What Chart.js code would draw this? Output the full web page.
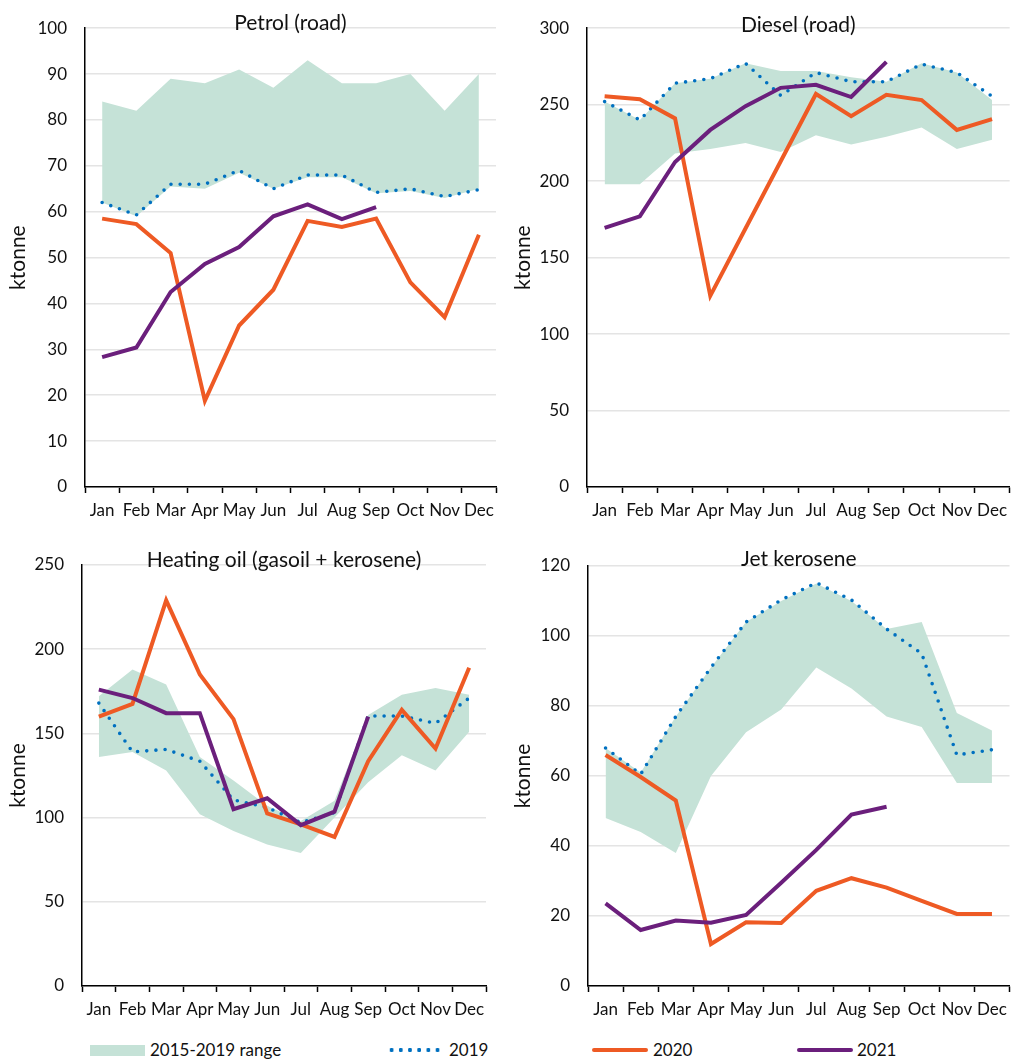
<!DOCTYPE html>
<html lang="en">
<head>
  <meta charset="UTF-8">
  <title>Oil product sales</title>
  <script src="https://cdn.jsdelivr.net/npm/chart.js"></script>
  <style>
    body {
      margin: 0;
      background: #fff;
      font-family: Lato, "Open Sans", sans-serif;
    }
    .page {
      position: relative;
      width: 1014px;
      height: 1059px;
    }
    .panel {
      position: absolute;
    }
    .legend {
      position: absolute;
      top: 1038px;
      left: 0;
      width: 1014px;
      height: 22px;
      font-size: 17px;
      color: #111;
    }
    .legend span {
      position: absolute;
      top: 1px;
      white-space: nowrap;
    }
    .swatch {
      position: absolute;
    }
  </style>
</head>
<body>
  <div class="page">
    <div class="panel" style="left:0;top:0;width:505px;height:530px"><canvas id="petrol"></canvas></div>
    <div class="panel" style="left:505px;top:0;width:509px;height:530px"><canvas id="diesel"></canvas></div>
    <div class="panel" style="left:0;top:535px;width:505px;height:485px"><canvas id="heating"></canvas></div>
    <div class="panel" style="left:505px;top:535px;width:509px;height:485px"><canvas id="jet"></canvas></div>

    <div class="legend">
      <div class="swatch" style="left:90px;top:7px;width:55px;height:11px;background:#c5e2d7"></div>
      <span style="left:150px">2015-2019 range</span>
      <div class="swatch" style="left:387px;top:9px;width:56px;height:6px;background:radial-gradient(circle, #0070c0 1.9px, transparent 2.3px) repeat-x;background-size:9.2px 6px"></div>
      <span style="left:449px">2019</span>
      <div class="swatch" style="left:592px;top:10px;width:56px;height:4px;background:#ee5a24;border-radius:2px"></div>
      <span style="left:653px">2020</span>
      <div class="swatch" style="left:797px;top:10px;width:56px;height:4px;background:#6b1f7c;border-radius:2px"></div>
      <span style="left:857px">2021</span>
    </div>
  </div>

  <script>
    const months = ['Jan', 'Feb', 'Mar', 'Apr', 'May', 'Jun', 'Jul', 'Aug', 'Sep', 'Oct', 'Nov', 'Dec'];

    // Petrol (road)
    const petrolLow  = [62, 59, 65.5, 65, 68.5, 65, 67.5, 67.5, 64, 64.5, 63, 65];
    const petrolHigh = [84, 82, 89, 88, 91, 87, 93, 88, 88, 90, 82, 90];
    const petrol2019 = [62, 59.3, 66, 66, 69, 65, 68, 68, 64.2, 65, 63.3, 64.8];
    const petrol2020 = [58.5, 57.3, 51, 18.8, 35.2, 43, 58, 56.7, 58.5, 44.6, 37, 55];
    const petrol2021 = [28.3, 30.4, 42.5, 48.6, 52.3, 59, 61.6, 58.4, 61, null, null, null];

    // Diesel (road)
    const dieselLow  = [198, 198, 218, 221, 225, 219, 230, 224, 229, 235, 221, 227];
    const dieselHigh = [252, 240, 264, 267, 277, 272, 272, 268, 265, 277, 271, 253];
    const diesel2019 = [252, 240, 264, 267, 277, 256, 271, 265, 265, 276.5, 271, 255.5];
    const diesel2020 = [255.5, 253.5, 241, 125, 169, 213, 257, 242.5, 256.5, 253, 233.5, 240.5];
    const diesel2021 = [169.5, 177, 212.5, 233.5, 249, 261, 263, 255, 278, null, null, null];

    // Heating oil (gasoil + kerosene)
    const heatingLow  = [136, 139, 128, 102, 92, 84, 79, 100, 121, 137, 128, 151];
    const heatingHigh = [172, 188, 179, 136, 122, 107, 98, 110, 161, 173, 177, 173];
    const heating2019 = [168, 139, 140.5, 133.5, 110.5, 106, 97, 103, 160.3, 160.3, 156, 171];
    const heating2020 = [160, 167.5, 229, 185, 158.5, 102.5, 96, 88.5, 133.5, 164, 141, 189];
    const heating2021 = [176, 171, 162, 162, 105, 111.5, 95.5, 103.5, 160, null, null, null];

    // Jet kerosene
    const jetLow  = [48, 44, 38, 60, 72.5, 79, 91, 85, 77, 74, 58, 58];
    const jetHigh = [68, 61, 77, 91, 104, 110, 115, 110, 102, 104, 78, 73];
    const jet2019 = [68, 60.5, 77, 91, 104, 110.3, 115.2, 110.3, 102, 95, 66, 67.5];
    const jet2020 = [66, 59.7, 53, 12, 18.2, 18, 27.2, 30.8, 28.1, 24.3, 20.6, 20.6];
    const jet2021 = [23.6, 16, 18.7, 18.1, 20.3, 29.5, 38.9, 49, 51.2, null, null, null];

    const FONT = 'Lato, "Open Sans", sans-serif';

    // draws the panel title over the top gridline
    const panelTitle = {
      id: 'panelTitle',
      afterDraw(chart, args, opts) {
        const { ctx, chartArea } = chart;
        ctx.save();
        ctx.font = '21px ' + FONT;
        ctx.fillStyle = '#111';
        ctx.textAlign = 'center';
        ctx.textBaseline = 'middle';
        ctx.fillText(opts.text, (chartArea.left + chartArea.right) / 2, chartArea.top + opts.dy);
        ctx.restore();
      }
    };

    function makeChart(id, title, titleDy, low, high, y19, y20, y21, yMax, step, axisW, pad) {
      new Chart(document.getElementById(id), {
        type: 'line',
        data: {
          labels: months,
          datasets: [
            { label: '2021', data: y21, borderColor: '#6b1f7c', borderWidth: 4, pointRadius: 0, order: 0 },
            { label: '2020', data: y20, borderColor: '#ee5a24', borderWidth: 4, pointRadius: 0, order: 1 },
            { label: '2019', data: y19, borderColor: '#0070c0', borderWidth: 3.6, borderDash: [0, 9.2],
              borderCapStyle: 'round', pointRadius: 0, order: 2 },
            { label: 'low', data: low, borderWidth: 0, borderColor: 'rgba(0,0,0,0)', pointRadius: 0, order: 3 },
            { label: '2015-2019 range', data: high, borderWidth: 0, borderColor: 'rgba(0,0,0,0)',
              backgroundColor: '#c5e2d7', fill: '-1', pointRadius: 0, order: 4 }
          ]
        },
        options: {
          responsive: true,
          maintainAspectRatio: false,
          animation: false,
          layout: { padding: pad },
          plugins: {
            legend: { display: false },
            tooltip: { enabled: false },
            panelTitle: { text: title, dy: titleDy }
          },
          scales: {
            x: {
              offset: true,
              grid: { offset: true, drawOnChartArea: false, drawTicks: true, tickLength: 6, tickColor: '#000', tickWidth: 1.5 },
              border: { color: '#000', width: 1.5 },
              ticks: { color: '#111', font: { family: FONT, size: 17 }, padding: 7, autoSkip: false, maxRotation: 0 },
              afterFit(scale) { scale.height = 35; }
            },
            y: {
              min: 0,
              max: yMax,
              ticks: { stepSize: step, color: '#111', font: { family: FONT, size: 17 }, padding: 18 },
              grid: { color: '#e4e4e4', lineWidth: 1.5, drawTicks: false },
              border: { color: '#000', width: 1.5 },
              title: { display: true, text: 'ktonne', color: '#111', font: { family: FONT, size: 21 }, padding: { top: 6, bottom: 0 } },
              afterFit(scale) { scale.width = axisW; }
            }
          }
        },
        plugins: [panelTitle]
      });
    }

    makeChart('petrol', 'Petrol (road)', -5, petrolLow, petrolHigh, petrol2019, petrol2020, petrol2021,
      100, 10, 85, { top: 26, right: 9, bottom: 8, left: 0 });
    makeChart('diesel', 'Diesel (road)', -3, dieselLow, dieselHigh, diesel2019, diesel2020, diesel2021,
      300, 50, 82, { top: 26, right: 0, bottom: 8, left: 0 });
    makeChart('heating', 'Heating oil (gasoil + kerosene)', -5, heatingLow, heatingHigh, heating2019, heating2020, heating2021,
      250, 50, 82, { top: 30, right: 19, bottom: -1, left: 0 });
    makeChart('jet', 'Jet kerosene', -7, jetLow, jetHigh, jet2019, jet2020, jet2021,
      120, 20, 83, { top: 31, right: 2, bottom: -1, left: 0 });
  </script>
</body>
</html>
